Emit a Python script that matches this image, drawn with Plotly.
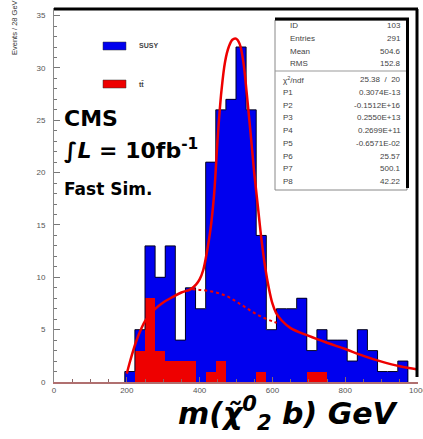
import plotly.graph_objects as go

# ---------------- data ----------------
n_bins = 36
x_min, x_max = 0, 1000
susy_counts = [0, 0, 0, 0, 0, 0, 0, 1, 5, 13, 10, 13, 4, 9, 7, 21, 26, 27, 32, 26,
               14, 5, 7, 7, 8, 3, 5, 4, 4, 2, 5, 3, 1, 1, 2, 0]
tt_counts = [0, 0, 0, 0, 0, 0, 0, 0, 3, 8, 3, 2, 2, 2, 0, 1, 2, 0, 0, 0,
             1, 0, 0, 0, 0, 1, 1, 0, 0, 0, 0, 0, 0, 0, 0, 0]

fit_x = [200, 210, 225, 240, 250, 275, 300, 325, 350, 375, 390, 400, 410, 420, 430,
         440, 450, 460, 470, 480, 490, 500, 510, 520, 530, 540, 550, 560, 570, 580,
         590, 600, 610, 625, 650, 700, 750, 800, 850, 900, 950, 1000]
fit_y = [0.8, 2.1, 3.8, 5.1, 5.8, 6.9, 7.6, 8.1, 8.55, 8.85, 9.3, 9.8, 10.7, 12.4, 14.6,
         18.0, 23.5, 27.8, 30.6, 32.0, 32.7, 32.8, 32.3, 30.6, 27.4, 23.8, 20.0, 16.8, 13.6, 11.0,
         9.0, 7.5, 6.6, 5.9, 5.15, 4.4, 3.75, 3.15, 2.5, 1.95, 1.5, 1.2]

bkg_x = [380, 400, 425, 450, 475, 500, 525, 550, 575, 600, 612]
bkg_y = [8.85, 8.8, 8.7, 8.5, 8.2, 7.7, 7.15, 6.6, 6.15, 5.8, 5.65]

x_ticks = [0, 200, 400, 600, 800, 1000]
y_ticks = [0, 5, 10, 15, 20, 25, 30, 35]

stats_labels = ["ID", "Entries", "Mean", "RMS"]
stats_values = ["103", "291", "504.6", "152.8"]
fit_labels = ["χ<sup>2</sup>/ndf", "P1", "P2", "P3", "P4", "P5", "P6", "P7", "P8"]
fit_values = ["25.38  /  20", "0.3074E-13", "-0.1512E+16", "0.2550E+13", "0.2699E+11",
              "-0.6571E-02", "25.57", "500.1", "42.22"]

# ---------------- derived ----------------
bw = (x_max - x_min) / n_bins
centers = [x_min + (i + 0.5) * bw for i in range(n_bins)]
edges = [x_min + i * bw for i in range(n_bins + 1)]
first = next(i for i, v in enumerate(susy_counts) if v > 0)
out_x = [edges[first]] + edges[first:n_bins]
out_y = [0] + susy_counts[first:n_bins]

BLUE = "#0000ee"
RED = "#ee0000"

# ---------------- layout geometry ----------------
W, H = 423, 439
L, R, T, B = 54, 5, 8, 57
PW, PH = W - L - R, H - T - B


def px(x):
    return (x - L) / PW


def py(y):
    return (H - B - y) / PH


y_top = 35 * PH / 366.4

fig = go.Figure()
fig.add_trace(go.Bar(x=centers, y=susy_counts, width=bw, marker=dict(color=BLUE, line=dict(width=0)),
                     hoverinfo="skip"))
fig.add_trace(go.Scatter(x=out_x, y=out_y, mode="lines", line=dict(color="#000022", width=1, shape="hv"),
                         hoverinfo="skip"))
fig.add_trace(go.Bar(x=centers, y=tt_counts, width=bw, marker=dict(color=RED, line=dict(width=0)),
                     hoverinfo="skip"))
fig.add_trace(go.Scatter(x=bkg_x, y=bkg_y, mode="lines",
                         line=dict(color=RED, width=2, dash="dot", shape="spline"), hoverinfo="skip"))
fig.add_trace(go.Scatter(x=fit_x, y=fit_y, mode="lines",
                         line=dict(color=RED, width=2.5, shape="spline", smoothing=1.0), hoverinfo="skip"))

tick_font = dict(family="Liberation Sans, Arial, sans-serif", size=8, color="#555")
fig.update_layout(
    width=W, height=H, margin=dict(l=L, r=R, t=T, b=B, pad=0, autoexpand=False),
    plot_bgcolor="white", paper_bgcolor="white", showlegend=False,
    barmode="overlay", bargap=0,
    xaxis=dict(range=[x_min, x_max], tickvals=x_ticks, ticks="inside", ticklen=5, tickcolor="#886666",
               minor=dict(dtick=50, ticklen=3, ticks="inside", tickcolor="#886666"),
               showline=True, linecolor="#b07070", linewidth=1.5, showgrid=False, zeroline=False,
               tickfont=tick_font, ticklabeloverflow="allow", automargin=False),
    yaxis=dict(range=[0, y_top], tickvals=y_ticks, ticks="inside", ticklen=6, tickcolor="#777",
               minor=dict(dtick=1, ticklen=3, ticks="inside", tickcolor="#777"),
               showline=True, linecolor="#888", linewidth=1, showgrid=False, zeroline=False,
               tickfont=tick_font, ticklabelstandoff=6, automargin=False),
)

shapes = []
# frame: thick top and right
shapes.append(dict(type="line", xref="paper", yref="paper", x0=0, x1=1, y0=py(9), y1=py(9),
                   line=dict(color="black", width=3)))
shapes.append(dict(type="line", xref="paper", yref="paper", x0=px(417), x1=px(417), y0=py(9), y1=py(377),
                   line=dict(color="black", width=3)))
# stats box
shapes.append(dict(type="rect", xref="paper", yref="paper", x0=px(275), x1=px(407), y0=py(190), y1=py(20),
                   line=dict(color="#888", width=1), fillcolor="white"))
shapes.append(dict(type="line", xref="paper", yref="paper", x0=px(275), x1=px(409), y0=py(19), y1=py(19),
                   line=dict(color="black", width=3)))
shapes.append(dict(type="line", xref="paper", yref="paper", x0=px(407.5), x1=px(407.5), y0=py(19), y1=py(188),
                   line=dict(color="black", width=3)))
shapes.append(dict(type="line", xref="paper", yref="paper", x0=px(275), x1=px(406), y0=py(71), y1=py(71),
                   line=dict(color="#999", width=1)))
# legend keys
shapes.append(dict(type="rect", xref="paper", yref="paper", x0=px(103), x1=px(126), y0=py(50), y1=py(42),
                   line=dict(color="#333", width=0.5), fillcolor=BLUE))
shapes.append(dict(type="rect", xref="paper", yref="paper", x0=px(103), x1=px(126), y0=py(88), y1=py(80),
                   line=dict(color="#333", width=0.5), fillcolor=RED))
fig.update_layout(shapes=shapes)

ann = []
sf = "Liberation Sans, Arial, sans-serif"
row_y = [26, 38.5, 51, 63.5]
for lab, val, yy in zip(stats_labels, stats_values, row_y):
    ann.append(dict(x=px(288), y=py(yy), text=lab, xanchor="left", yanchor="middle", showarrow=False,
                    font=dict(family=sf, size=8, color="#444"), xref="paper", yref="paper"))
    ann.append(dict(x=px(403), y=py(yy), text=val, xanchor="right", yanchor="middle", showarrow=False,
                    font=dict(family=sf, size=8, color="#444"), xref="paper", yref="paper"))
fit_row_y = [79.5 + i * 12.75 for i in range(len(fit_labels))]
for lab, val, yy in zip(fit_labels, fit_values, fit_row_y):
    ann.append(dict(x=px(281), y=py(yy), text=lab, xanchor="left", yanchor="middle", showarrow=False,
                    font=dict(family=sf, size=8, color="#444"), xref="paper", yref="paper"))
    ann.append(dict(x=px(403), y=py(yy), text=val, xanchor="right", yanchor="middle", showarrow=False,
                    font=dict(family=sf, size=8, color="#444"), xref="paper", yref="paper"))

# legend text
ann.append(dict(x=px(137), y=py(46), text="<b>SUSY</b>", xanchor="left", yanchor="middle", showarrow=False,
                font=dict(family=sf, size=7, color="#444"), xref="paper", yref="paper"))
ann.append(dict(x=px(137), y=py(84), text="<b>tt̄</b>", xanchor="left", yanchor="middle", showarrow=False,
                font=dict(family=sf, size=7, color="#444"), xref="paper", yref="paper"))

# CMS text
bf = "DejaVu Sans, sans-serif"
ann.append(dict(x=px(62), y=py(119), text="<b>CMS</b>", xanchor="left", yanchor="middle", showarrow=False,
                font=dict(family=bf, size=22, color="black"), xref="paper", yref="paper"))
ann.append(dict(x=px(62), y=py(149), text="<b>∫<i>L</i> = 10fb<sup>-1</sup></b>", xanchor="left",
                yanchor="middle", showarrow=False,
                font=dict(family=bf, size=22, color="black"), xref="paper", yref="paper"))
ann.append(dict(x=px(62), y=py(189), text="<b>Fast Sim.</b>", xanchor="left", yanchor="middle", showarrow=False,
                font=dict(family=bf, size=17, color="black"), xref="paper", yref="paper"))

# axis titles
ann.append(dict(x=px(288), y=py(414), text="<b><i>m(χ̃<sup>0</sup><sub>2</sub> b) GeV</i></b>",
                xanchor="center", yanchor="middle", showarrow=False,
                font=dict(family=bf, size=30, color="black"), xref="paper", yref="paper"))
ann.append(dict(x=px(15), y=py(28), text="Events / 28 GeV", textangle=-90,
                xanchor="center", yanchor="middle", showarrow=False,
                font=dict(family=sf, size=7.5, color="#333"), xref="paper", yref="paper"))
fig.update_layout(annotations=ann)

fig.write_html("out.html")
